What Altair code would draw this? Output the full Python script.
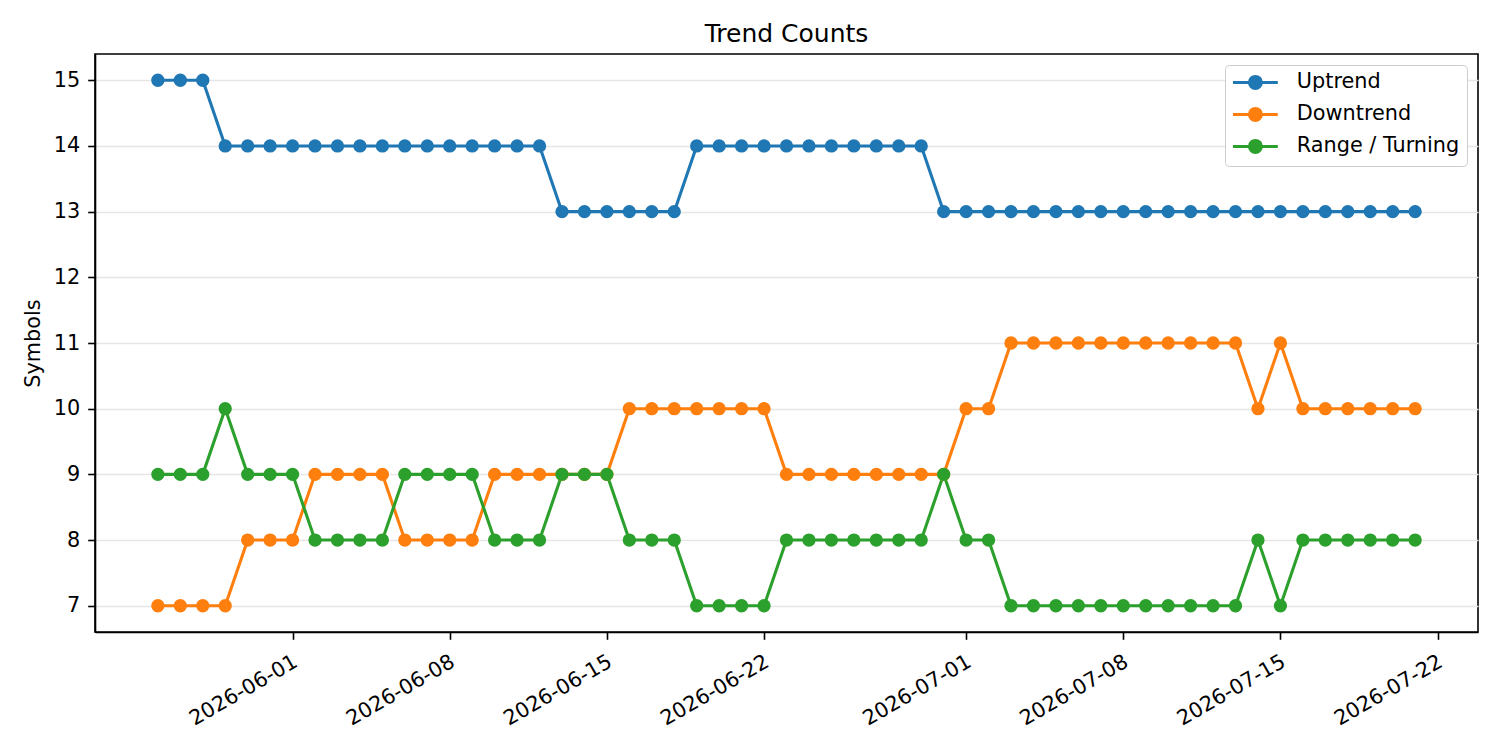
import altair as alt
import pandas as pd

dates = [
    "2026-05-26", "2026-05-27", "2026-05-28", "2026-05-29", "2026-05-30", "2026-05-31",
    "2026-06-01", "2026-06-02", "2026-06-03", "2026-06-04", "2026-06-05", "2026-06-06",
    "2026-06-07", "2026-06-08", "2026-06-09", "2026-06-10", "2026-06-11", "2026-06-12",
    "2026-06-13", "2026-06-14", "2026-06-15", "2026-06-16", "2026-06-17", "2026-06-18",
    "2026-06-19", "2026-06-20", "2026-06-21", "2026-06-22", "2026-06-23", "2026-06-24",
    "2026-06-25", "2026-06-26", "2026-06-27", "2026-06-28", "2026-06-29", "2026-06-30",
    "2026-07-01", "2026-07-02", "2026-07-03", "2026-07-04", "2026-07-05", "2026-07-06",
    "2026-07-07", "2026-07-08", "2026-07-09", "2026-07-10", "2026-07-11", "2026-07-12",
    "2026-07-13", "2026-07-14", "2026-07-15", "2026-07-16", "2026-07-17", "2026-07-18",
    "2026-07-19", "2026-07-20", "2026-07-21",
]

uptrend = [
    15, 15, 15, 14, 14, 14, 14, 14, 14, 14, 14, 14, 14, 14, 14, 14, 14, 14,
    13, 13, 13, 13, 13, 13, 14, 14, 14, 14, 14, 14, 14, 14, 14, 14, 14,
    13, 13, 13, 13, 13, 13, 13, 13, 13, 13, 13, 13, 13, 13, 13, 13, 13, 13,
    13, 13, 13, 13,
]

downtrend = [
    7, 7, 7, 7, 8, 8, 8, 9, 9, 9, 9, 8, 8, 8, 8, 9, 9, 9, 9, 9, 9,
    10, 10, 10, 10, 10, 10, 10, 9, 9, 9, 9, 9, 9, 9, 9, 10, 10,
    11, 11, 11, 11, 11, 11, 11, 11, 11, 11, 11, 10, 11, 10, 10, 10, 10, 10, 10,
]

range_turning = [
    9, 9, 9, 10, 9, 9, 9, 8, 8, 8, 8, 9, 9, 9, 9, 8, 8, 8, 9, 9, 9,
    8, 8, 8, 7, 7, 7, 7, 8, 8, 8, 8, 8, 8, 8, 9, 8, 8,
    7, 7, 7, 7, 7, 7, 7, 7, 7, 7, 7, 8, 7, 8, 8, 8, 8, 8, 8,
]

series_names = ["Uptrend", "Downtrend", "Range / Turning"]
series_colors = ["#1f77b4", "#ff7f0e", "#2ca02c"]
y_ticks = [7, 8, 9, 10, 11, 12, 13, 14, 15]
x_ticks = ["2026-06-01", "2026-06-08", "2026-06-15", "2026-06-22",
           "2026-07-01", "2026-07-08", "2026-07-15", "2026-07-22"]

rows = []
for k, (name, vals) in enumerate(zip(series_names, [uptrend, downtrend, range_turning])):
    for d, v in zip(dates, vals):
        rows.append({"date": d, "series": name, "value": v, "layer": k})
df = pd.DataFrame(rows)

FONT = "DejaVu Sans"
FS = 20.8


def dt(s, h=0, m=0):
    y, mo, d = (int(p) for p in s.split("-"))
    return alt.DateTime(year=y, month=mo, date=d, hours=h, minutes=m, utc=True)


def circ(r):
    return f"M{-r},0A{r},{r} 0 1,0 {r},0A{r},{r} 0 1,0 {-r},0"


legend_path = "M-3.2,0L3.2,0" + circ(0.214) + circ(0.643) + circ(0.857)

x_enc = alt.X(
    "date:T",
    scale=alt.Scale(type="utc", domain=[dt("2026-05-23", 4, 48), dt("2026-07-23", 19, 12)]),
    axis=alt.Axis(
        values=[dt(s) for s in x_ticks],
        labelExpr="utcFormat(datum.value, '%Y-%m-%d')",
        labelAngle=-30,
        labelAlign="right",
        labelBaseline="top",
        labelOffset=-2,
        labelPadding=12,
        tickSize=7.3,
        grid=False,
        title=None,
        labelFontSize=FS,
    ),
)
y_enc = alt.Y(
    "value:Q",
    scale=alt.Scale(domain=[6.6, 15.4], nice=False, zero=False),
    axis=alt.Axis(
        values=y_ticks,
        title="Symbols",
        titleFontSize=FS,
        titleFontWeight="normal",
        titleX=-62,
        titleY=289,
        titleAngle=-90,
        titleBaseline="middle",
        titleAlign="center",
        grid=True,
        gridColor="#e6e6e6",
        gridWidth=1.4,
        tickSize=7.3,
        labelPadding=8,
        labelFontSize=FS,
    ),
)
color_enc = alt.Color(
    "series:N",
    scale=alt.Scale(domain=series_names, range=series_colors),
    sort=series_names,
    legend=alt.Legend(
        title=None,
        orient="top-right",
        offset=11,
        symbolType=legend_path,
        symbolSize=196,
        symbolStrokeWidth=3,
        symbolOpacity=1,
        symbolOffset=13,
        labelOffset=31,
        labelFont=FONT,
        labelFontSize=FS,
        labelColor="black",
        labelLimit=400,
        padding=7,
        rowPadding=7,
        strokeColor="#cccccc",
        fillColor="white",
        cornerRadius=4,
    ),
)

base = alt.Chart(df).encode(
    x=x_enc, y=y_enc, color=color_enc, order=alt.Order("layer:Q")
)
lines = base.mark_line(strokeWidth=3.1)
points = base.mark_circle(size=177, opacity=1)

chart = (
    alt.layer(lines, points)
    .properties(
        width=1383,
        height=578,
        title=alt.TitleParams(
            "Trend Counts",
            font=FONT,
            fontSize=25,
            fontWeight="normal",
            color="black",
            anchor="middle",
            baseline="alphabetic",
            offset=-13,
        ),
        padding={"left": 95, "top": 54, "right": 22, "bottom": 118},
        autosize=alt.AutoSizeParams(type="none"),
    )
    .configure(font=FONT, background="white")
    .configure_view(stroke="black", strokeWidth=1.6)
    .configure_axis(
        domainColor="black",
        domainWidth=1.6,
        tickColor="black",
        tickWidth=1.6,
        labelColor="black",
        titleColor="black",
        labelFont=FONT,
        titleFont=FONT,
    )
)

chart.save("out.html", embed_options={"renderer": "svg", "actions": False})
